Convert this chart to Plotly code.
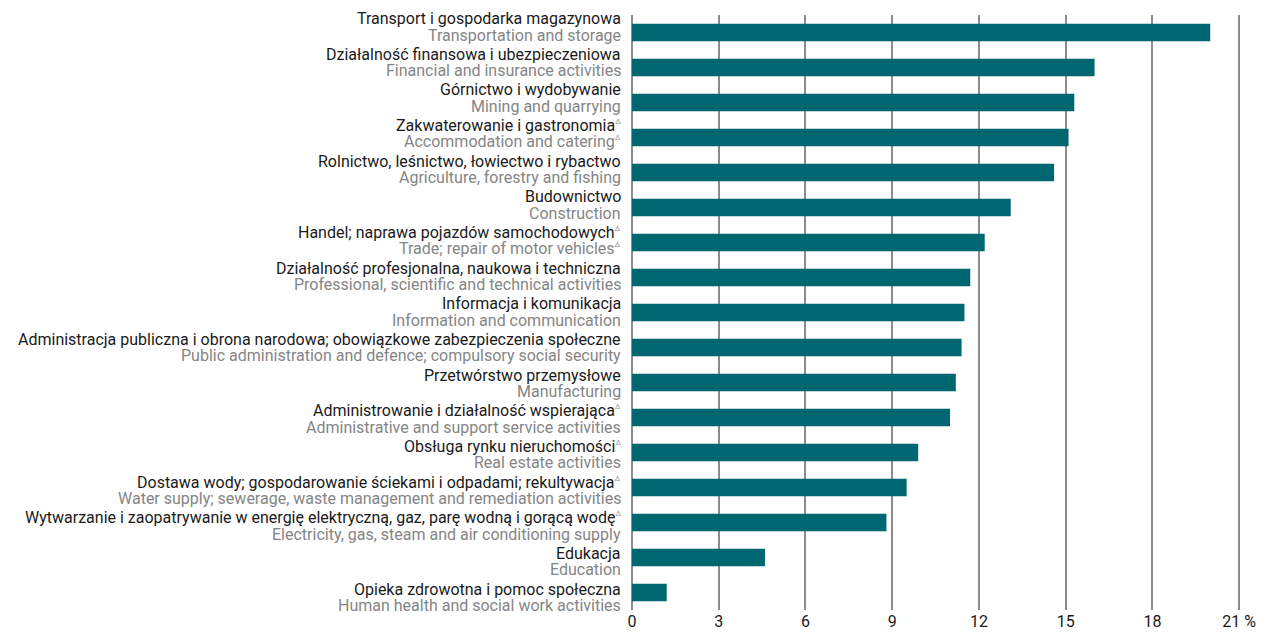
import plotly.graph_objects as go

labels_pl = [
    "Transport i gospodarka magazynowa",
    "Działalność finansowa i ubezpieczeniowa",
    "Górnictwo i wydobywanie",
    "Zakwaterowanie i gastronomia",
    "Rolnictwo, leśnictwo, łowiectwo i rybactwo",
    "Budownictwo",
    "Handel; naprawa pojazdów samochodowych",
    "Działalność profesjonalna, naukowa i techniczna",
    "Informacja i komunikacja",
    "Administracja publiczna i obrona narodowa; obowiązkowe zabezpieczenia społeczne",
    "Przetwórstwo przemysłowe",
    "Administrowanie i działalność wspierająca",
    "Obsługa rynku nieruchomości",
    "Dostawa wody; gospodarowanie ściekami i odpadami; rekultywacja",
    "Wytwarzanie i zaopatrywanie w energię elektryczną, gaz, parę wodną i gorącą wodę",
    "Edukacja",
    "Opieka zdrowotna i pomoc społeczna",
]
labels_en = [
    "Transportation and storage",
    "Financial and insurance activities",
    "Mining and quarrying",
    "Accommodation and catering",
    "Agriculture, forestry and fishing",
    "Construction",
    "Trade; repair of motor vehicles",
    "Professional, scientific and technical activities",
    "Information and communication",
    "Public administration and defence; compulsory social security",
    "Manufacturing",
    "Administrative and support service activities",
    "Real estate activities",
    "Water supply; sewerage, waste management and remediation activities",
    "Electricity, gas, steam and air conditioning supply",
    "Education",
    "Human health and social work activities",
]
delta_pl = [0, 0, 0, 1, 0, 0, 1, 0, 0, 0, 0, 1, 1, 1, 1, 0, 0]
delta_en = [0, 0, 0, 1, 0, 0, 1, 0, 0, 0, 0, 0, 0, 0, 0, 0, 0]
values = [20.0, 16.0, 15.3, 15.1, 14.6, 13.1, 12.2, 11.7, 11.5, 11.4, 11.2, 11.0, 9.9, 9.5, 8.8, 4.6, 1.2]
x_ticks = [0, 3, 6, 9, 12, 15, 18, 21]
x_tick_text = ["0", "3", "6", "9", "12", "15", "18", "21 %"]

BAR = "#00666f"
GRID = "#8c8c8c"
FONT = "Roboto"
SUP = "<sup><span style='font-size:8px;color:#999999'>Δ</span></sup>"

# page body has an 8px margin; size the figure so that it fills the window
OFF = 8

fig = go.Figure()
fig.add_trace(go.Bar(
    x=values, y=labels_en, orientation="h",
    marker=dict(color=BAR, line=dict(width=0)),
    width=0.5, hoverinfo="x+y",
))

annotations = []
n = len(labels_en)
for i, (pl, en, dp, de) in enumerate(zip(labels_pl, labels_en, delta_pl, delta_en)):
    shift_pl = 14 - i * 10.5 / (n - 1)
    annotations.append(dict(
        x=0, xref="paper", y=en, yref="y", xanchor="right", yanchor="middle",
        text=pl + (SUP if dp else ""), showarrow=False, xshift=-9, yshift=shift_pl,
        font=dict(family=FONT, size=16, color="#1a1a1a")))
    annotations.append(dict(
        x=0, xref="paper", y=en, yref="y", xanchor="right", yanchor="middle",
        text=en + (SUP if de else ""), showarrow=False, xshift=-9, yshift=shift_pl - 16.5,
        font=dict(family=FONT, size=16, color="#858585")))

fig.update_layout(
    width=1271 - OFF, height=633 - OFF,
    margin=dict(l=632 - OFF, r=29, t=15 - OFF, b=23, autoexpand=False),
    paper_bgcolor="white", plot_bgcolor="white",
    showlegend=False, bargap=0.5,
    annotations=annotations,
    font=dict(family=FONT, size=16, color="#1a1a1a"),
)
fig.update_xaxes(
    range=[0, 21.1], tickvals=x_ticks, ticktext=x_tick_text,
    showgrid=True, gridcolor=GRID, gridwidth=1.5,
    zeroline=True, zerolinecolor=GRID, zerolinewidth=1.5,
    showline=False, ticks="", automargin=False,
    tickfont=dict(family=FONT, size=16, color="#1a1a1a"),
)
fig.update_yaxes(
    categoryorder="array", categoryarray=labels_en, autorange="reversed",
    showticklabels=False, showgrid=False, zeroline=False, showline=False,
    ticks="", automargin=False,
)

fig.write_html("out.html")
